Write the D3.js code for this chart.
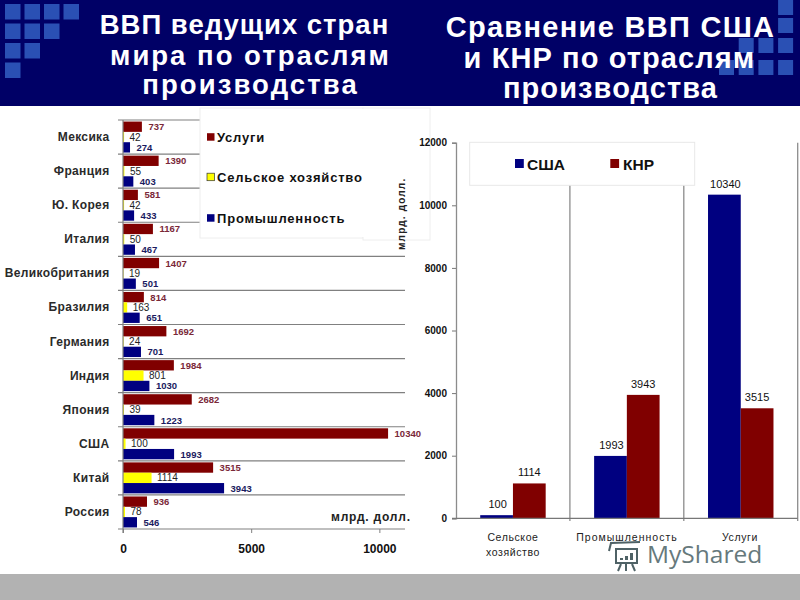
<!DOCTYPE html>
<html><head><meta charset="utf-8">
<script src="https://cdnjs.cloudflare.com/ajax/libs/d3/7.8.5/d3.min.js"></script>
<style>html,body{margin:0;padding:0;background:#fff}svg{display:block}text{font-family:"Liberation Sans",Arial,sans-serif}</style>
</head><body><svg id="c" width="800" height="600"></svg>
<script>
const countries=["Мексика","Франция","Ю. Корея","Италия","Великобритания","Бразилия","Германия","Индия","Япония","США","Китай","Россия"];
const services=[737,1390,581,1167,1407,814,1692,1984,2682,10340,3515,936];
const agriculture=[42,55,42,50,19,163,24,801,39,100,1114,78];
const industry=[274,403,433,467,501,651,701,1030,1223,1993,3943,546];
const seriesNames=["Услуги","Сельское хозяйство","Промышленность"];
const seriesColors=["#800000","#ffff00","#000080"];
const labelColors=["#7a2838","#222222","#1a1a60"];
const leftTicks=[0,5000,10000];
const compareCats=[["Сельское","хозяйство"],["Промышленность"],["Услуги"]];
const usa=[100,1993,10340];
const china=[1114,3943,3515];
const compareNames=["США","КНР"];
const compareColors=["#000080","#800000"];
const rightTicks=[0,2000,4000,6000,8000,10000,12000];
const titleLeft=["ВВП ведущих стран","мира по отраслям","производства"];
const titleRight=["Сравнение ВВП США","и КНР по отраслям","производства"];
const squaresLeft=[[0,0],[1,0],[2,0],[3,0],[0,1],[1,1],[2,1],[0,2],[1,2],[0,3]];
const squaresRight=[[3,0],[3,1],[1,2],[2,2],[3,2],[0,3],[1,3],[2,3],[3,3]];

const svg=d3.select("#c");
svg.append("rect").attr("width",800).attr("height",600).attr("fill","#fff");
// header and footer
svg.append("rect").attr("width",800).attr("height",106).attr("fill","#000066");
svg.append("rect").attr("y",574).attr("width",800).attr("height",26).attr("fill","#b2b2b2");
const sq=svg.append("g").attr("fill","#2a50b4");
sq.selectAll(".a").data(squaresLeft).join("rect").attr("class","a")
 .attr("x",d=>5+d[0]*19.5).attr("y",d=>4+d[1]*19.5).attr("width",15.5).attr("height",15.5);
sq.selectAll(".b").data(squaresRight).join("rect").attr("class","b")
 .attr("x",d=>719+d[0]*19.7).attr("y",d=>[0,18,38,60][d[1]]).attr("width",15).attr("height",15);
function title(lines,cx,ys,ls,fs){
 svg.append("g").selectAll("text").data(lines).join("text")
  .attr("x",(d,i)=>cx[i]).attr("y",(d,i)=>ys[i]).attr("text-anchor","middle")
  .attr("fill","#fff").attr("font-weight","bold").attr("font-size",fs).attr("letter-spacing",(d,i)=>ls[i]).text(d=>d);
}
title(titleLeft,[244.5,250.5,250.5],[34,65,94],[1.0,2.0,2.1],27.5);
title(titleRight,[610.5,609.5,610.5],[37,68,98],[1.3,1.1,1.1],29);

// left chart
const y0=d3.scaleBand().domain(countries).range([120,529]);
const y1=d3.scaleBand().domain(seriesNames).range([0,y0.bandwidth()]).paddingInner(0).paddingOuter(0.15);
const xL=d3.scaleLinear().domain([0,11000]).range([123,405]);
const values=[services,agriculture,industry];
const gridG=svg.append("g").attr("stroke","#808080").attr("stroke-width",1.2);
gridG.selectAll("line").data(countries.map(c=>y0(c)).concat([y0.range()[1]])).join("line")
 .attr("x1",118).attr("x2",405).attr("y1",d=>d).attr("y2",d=>d);
seriesNames.forEach((s,si)=>{
 const g=svg.append("g");
 g.selectAll("rect").data(values[si]).join("rect")
  .attr("x",xL(0)).attr("y",(d,i)=>y0(countries[i])+y1(s))
  .attr("width",d=>xL(d)-xL(0)).attr("height",y1.bandwidth())
  .attr("fill",seriesColors[si]);
 g.selectAll("text").data(values[si]).join("text")
  .attr("x",d=>xL(d)+(si==1?5.5:6.5)).attr("y",(d,i)=>y0(countries[i])+y1(s)+y1.bandwidth()/2+3.5)
  .attr("font-size",si==1?10:9.5).attr("fill",labelColors[si]).attr("font-weight",si==1?"normal":"bold").text(d=>d);
});
svg.append("g").selectAll("text").data(countries).join("text")
 .attr("x",109.5).attr("y",d=>y0(d)+y0.bandwidth()/2+4).attr("text-anchor","end")
 .attr("font-size",12).attr("font-weight","bold").attr("letter-spacing",0.35).attr("fill","#2a2a2a").text(d=>d);
const axL=svg.append("g").attr("transform","translate(0,529)")
 .call(d3.axisBottom(xL).tickValues(leftTicks).tickSize(4).tickPadding(11).tickFormat(d3.format("d")));
axL.select(".domain").remove();
axL.selectAll("line").attr("stroke","#808080");
axL.selectAll("text").attr("font-size",12).attr("font-weight","bold").attr("fill","#111").style("font-family",'"Liberation Sans"');
svg.append("line").attr("x1",123).attr("x2",123).attr("y1",120).attr("y2",533).attr("stroke","#808080").attr("stroke-width",1.2);
svg.append("text").attr("x",331).attr("y",521).attr("font-size",12).attr("font-weight","bold").attr("letter-spacing",0.8).attr("fill","#222").text("млрд. долл.");

// legend panel left
svg.append("rect").attr("x",200).attr("y",108).attr("width",163).attr("height",130).attr("fill","#fff").attr("stroke","#eeeeee");
svg.append("rect").attr("x",363).attr("y",108).attr("width",67).attr("height",132).attr("fill","#fff").attr("stroke","#eeeeee");
svg.append("rect").attr("x",360).attr("y",109).attr("width",6).attr("height",128).attr("fill","#fff");
const legY=[137,177,218];
const lg=svg.append("g");
lg.selectAll("rect").data(seriesNames).join("rect").attr("x",207).attr("y",(d,i)=>legY[i]-3.8).attr("width",7.5).attr("height",7.5)
 .attr("fill",(d,i)=>seriesColors[i]).attr("stroke",(d,i)=>i==1?"#333":"none").attr("stroke-width",0.7);
lg.selectAll("text").data(seriesNames).join("text").attr("x",217).attr("y",(d,i)=>legY[i]+4.5)
 .attr("font-size",13).attr("font-weight","bold").attr("letter-spacing",0.8).attr("fill","#111").text(d=>d);
svg.append("text").attr("transform","translate(405,250) rotate(-90)").attr("font-size",10).attr("font-weight","bold").attr("letter-spacing",1.2).attr("fill","#222").text("млрд. долл.");

// right chart
const catKeys=compareCats.map(d=>d.join(" "));
const xR=d3.scaleBand().domain(catKeys).range([456,797.7]);
const xR1=d3.scaleBand().domain(compareNames).range([0,xR.bandwidth()]).paddingInner(0).paddingOuter(0.74);
const yR=d3.scaleLinear().domain([0,12000]).range([518.3,142.7]);
const dividers=catKeys.map(c=>xR(c)+xR.bandwidth());
svg.append("g").selectAll("line").data(dividers).join("line")
 .attr("x1",d=>d).attr("x2",d=>d).attr("y1",142.7).attr("y2",521).attr("stroke","#8c8c8c").attr("stroke-width",1.3);
[usa,china].forEach((arr,si)=>{
 const g=svg.append("g");
 g.selectAll("rect").data(arr).join("rect")
  .attr("x",(d,i)=>xR(catKeys[i])+xR1(compareNames[si])).attr("y",d=>yR(d))
  .attr("width",xR1.bandwidth()).attr("height",d=>yR(0)-yR(d)).attr("fill",compareColors[si]);
 g.selectAll("text").data(arr).join("text")
  .attr("x",(d,i)=>xR(catKeys[i])+xR1(compareNames[si])+xR1.bandwidth()/2+(si==0?1:0)).attr("y",d=>yR(d)-7)
  .attr("text-anchor","middle").attr("font-size",11).attr("fill","#111").text(d=>d);
});
const axR=svg.append("g").attr("transform","translate(456,0)")
 .call(d3.axisLeft(yR).tickValues(rightTicks).tickSize(4).tickPadding(5).tickFormat(d3.format("d")));
axR.select(".domain").attr("stroke","#8c8c8c").attr("stroke-width",1.3);
axR.selectAll("line").attr("stroke","#777");
axR.selectAll("text").attr("font-size",10).attr("font-weight","bold").attr("fill","#111").style("font-family",'"Liberation Sans"');
svg.append("line").attr("x1",452).attr("x2",797.7).attr("y1",518.3).attr("y2",518.3).attr("stroke","#777").attr("stroke-width",1.2);
const cat=svg.append("g");
compareCats.forEach((lines,i)=>{
 cat.append("g").selectAll("text").data(lines).join("text")
  .attr("x",[513,627,740][i]).attr("y",(d,j)=>541+j*14.5).attr("text-anchor","middle")
  .attr("font-size",10.5).attr("letter-spacing",i==1?1.0:0.6).attr("fill","#222").text(d=>d);
});
// legend right
svg.append("rect").attr("x",469.7).attr("y",142.3).attr("width",225).attr("height",43).attr("fill","#fff").attr("stroke","#e8e8e8");
const lgX=[515,610.3],lgT=[527,623];
const lr=svg.append("g");
lr.selectAll("rect").data(compareNames).join("rect").attr("x",(d,i)=>lgX[i]).attr("y",159).attr("width",8.8).attr("height",9).attr("fill",(d,i)=>compareColors[i]);
lr.selectAll("text").data(compareNames).join("text").attr("x",(d,i)=>lgT[i]).attr("y",169.5)
 .attr("font-size",15.5).attr("font-weight","bold").attr("fill","#111").text(d=>d);

// watermark
const wm=svg.append("g").attr("fill","none").attr("stroke","#4f6266").attr("stroke-width",2);
wm.append("rect").attr("x",616).attr("y",549).attr("width",21).attr("height",14);
wm.append("path").attr("d","M609 551L611 543L640 542M621 564L618 571M626 564L626 571M632 564L635 571");
svg.append("g").attr("fill","#4f6266").selectAll("rect").data([2,4,7]).join("rect")
 .attr("x",(d,i)=>620+i*5).attr("y",d=>560-d).attr("width",3).attr("height",d=>d);
svg.append("text").attr("x",647).attr("y",563).attr("font-size",24.5).style("font-family",'"Open Sans"').attr("fill","#66797c").text("MyShared");
</script></body></html>
